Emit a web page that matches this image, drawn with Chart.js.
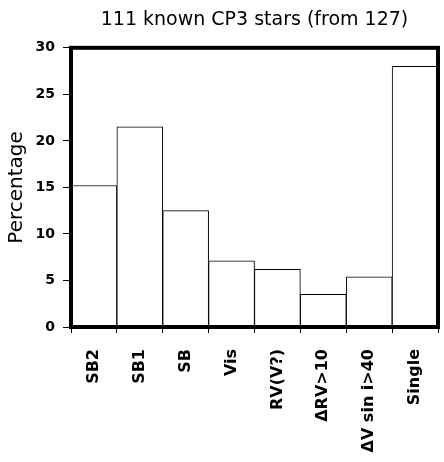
<!DOCTYPE html>
<html><head><meta charset="utf-8">
<script src="https://cdn.jsdelivr.net/npm/chart.js@4"></script>
<style>html,body{margin:0;padding:0;background:#fff;}canvas{display:block;}</style>
</head><body>
<canvas id="c" width="444" height="462"></canvas>
<script>
const categories = ["SB2", "SB1", "SB", "Vis", "RV(V?)", "ΔRV>10", "ΔV sin i>40", "Single"];
const percentages = [15.2, 21.5, 12.5, 7.1, 6.2, 3.5, 5.4, 28.0];
const yTicks = [0, 5, 10, 15, 20, 25, 30];
const titleText = "111 known CP3 stars (from 127)";
const yTitle = "Percentage";

const frame = {
  id: 'frame',
  afterDatasetsDraw(chart) {
    const a = chart.chartArea, ctx = chart.ctx;
    ctx.save();
    ctx.strokeStyle = '#000';
    ctx.lineWidth = 4;
    ctx.strokeRect(a.left, a.top, a.right - a.left, a.bottom - a.top);
    ctx.restore();
  }
};

new Chart(document.getElementById('c'), {
  type: 'bar',
  data: {
    labels: categories,
    datasets: [{
      data: percentages,
      backgroundColor: '#fff',
      borderColor: '#000',
      borderWidth: 1,
      borderSkipped: false,
      barPercentage: 1,
      categoryPercentage: 1
    }]
  },
  options: {
    responsive: false,
    animation: false,
    layout: { padding: { left: 5, right: 6, top: 6, bottom: 4 } },
    plugins: {
      legend: { display: false },
      tooltip: { enabled: false },
      title: {
        display: true, text: titleText, fullSize: false,
        color: '#000', font: { family: 'DejaVu Sans', size: 19, weight: 'normal' },
        padding: { top: 3, bottom: 16 }
      }
    },
    scales: {
      x: {
        border: { display: false },
        grid: { display: true, offset: true, drawOnChartArea: false, drawTicks: true, tickLength: 6, color: '#000', lineWidth: 1 },
        ticks: { color: '#000', minRotation: 90, maxRotation: 90, padding: 16, font: { family: 'DejaVu Sans', size: 16, weight: 'bold' } },
        afterFit(s) { s.height = 131; s.paddingRight = 0; s.paddingLeft = 0; }
      },
      y: {
        min: 0, max: 30,
        border: { display: false },
        afterBuildTicks(s) { s.ticks = yTicks.map(v => ({ value: v })); },
        grid: { display: true, drawOnChartArea: false, drawTicks: true, tickLength: 8, color: '#000', lineWidth: 1 },
        ticks: { color: '#000', padding: 8, font: { family: 'DejaVu Sans', size: 14, weight: 'bold' } },
        title: { display: true, text: yTitle, color: '#000', font: { family: 'DejaVu Sans', size: 20, weight: 'normal' }, padding: { top: 0, bottom: 8 } },
        afterFit(s) { s.width = 66; s.paddingTop = 0; s.paddingBottom = 0; }
      }
    }
  },
  plugins: [frame]
});
</script>
</body></html>
